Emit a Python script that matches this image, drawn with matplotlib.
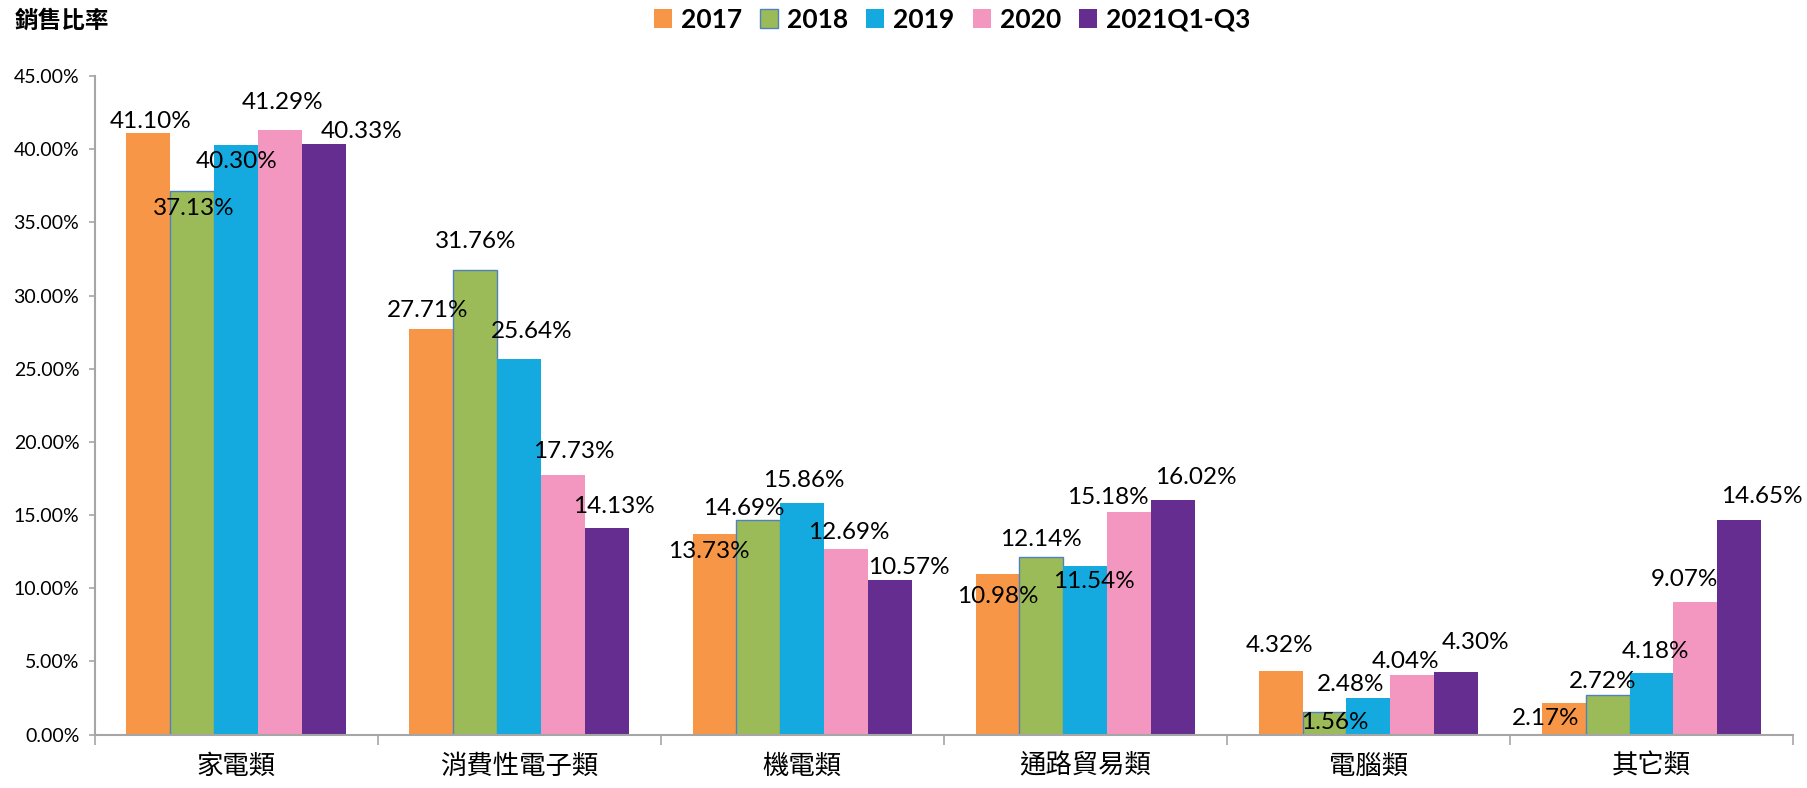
import matplotlib
matplotlib.use('Agg')
import matplotlib.pyplot as plt
import numpy as np

categories = ['家電類', '消費性電子類', '機電類', '通路貿易類', '電腦類', '其它類']
series_names = ['2017', '2018', '2019', '2020', '2021Q1-Q3']
v2017 = [41.10, 27.71, 13.73, 10.98, 4.32, 2.17]
v2018 = [37.13, 31.76, 14.69, 12.14, 1.56, 2.72]
v2019 = [40.30, 25.64, 15.86, 11.54, 2.48, 4.18]
v2020 = [41.29, 17.73, 12.69, 15.18, 4.04, 9.07]
v2021 = [40.33, 14.13, 10.57, 16.02, 4.30, 14.65]
y_ticks = [0, 5, 10, 15, 20, 25, 30, 35, 40, 45]

colors = ['#F79646', '#9BBB59', '#14AAE0', '#F497C0', '#662D91']
edges = ['none', '#4F81BD', 'none', 'none', 'none']

# label nudges in output pixels (label centre minus bar top centre), one row per series
label_dx = [[2, -4, -6, 0, -1, -18],
            [2, 0, -15, -1, 10, -5],
            [0, 13, 2, 9, -18, 4],
            [3, 11, 3, -21, -7, -11],
            [38, 7, 19, 23, 19, 23]]
label_dy = [[12, 19, -18, -23, 26, -16],
            [-17, 28, 11, 17, -11, 13],
            [-17, 28, 22, -16, 14, 22],
            [28, 24, 16, 15, 14, 22],
            [13, 21, 12, 23, 29, 24]]
PX = 0.72  # points per pixel at dpi 100

LABEL_FONT = 'Lato'
CJK = ['Noto Sans CJK TC', 'DejaVu Sans']

fig = plt.figure(figsize=(18.08, 7.88), dpi=100)
ax = fig.add_axes([0.0523, 0.0678, 0.9394, 0.8356])

values = [v2017, v2018, v2019, v2020, v2021]
x = np.arange(len(categories))
w = 0.155
for i, (name, vals) in enumerate(zip(series_names, values)):
    pos = x + (i - 2) * w
    ax.bar(pos, vals, width=w, color=colors[i], edgecolor=edges[i],
           linewidth=1.0 if edges[i] != 'none' else 0, label=name, zorder=2)
    for j, v in enumerate(vals):
        ax.annotate(f'{v:.2f}%', xy=(pos[j], v),
                    xytext=(label_dx[i][j] * PX, label_dy[i][j] * PX),
                    textcoords='offset points', ha='center', va='center',
                    fontsize=17.5, family=LABEL_FONT, color='black', zorder=3,
                    annotation_clip=False)

ax.set_xlim(-0.5, 5.5)
ax.set_ylim(0, 45)
ax.set_yticks(y_ticks)
ax.set_yticklabels([f'{t:.2f}%' for t in y_ticks], family=LABEL_FONT, fontsize=14)
ax.set_xticks(x)
ax.set_xticklabels(categories, family=CJK, fontsize=19, fontweight='medium')
ax.set_xticks(np.arange(-0.5, 6, 1), minor=True)
ax.tick_params(axis='x', which='major', length=0, pad=13)
ax.tick_params(axis='x', which='minor', length=7, width=1.2, color='#A6A6A6', direction='out')
ax.tick_params(axis='y', length=4, width=1.2, color='#A6A6A6', pad=7)

for s in ['top', 'right']:
    ax.spines[s].set_visible(False)
for s in ['left', 'bottom']:
    ax.spines[s].set_color('#A6A6A6')
    ax.spines[s].set_linewidth(1.5)

fig.text(0.008, 1 - 21 / 788, '銷售比率', family=CJK, fontsize=17,
         fontweight='bold', ha='left', va='center')

leg = fig.legend(loc='center', bbox_to_anchor=(0.5266, 0.975), ncol=5, frameon=False,
                 prop={'family': LABEL_FONT, 'weight': 'bold', 'size': 19},
                 handlelength=0.68, handleheight=0.68, handletextpad=0.34,
                 columnspacing=0.69, borderpad=0)

fig.savefig('out.png', dpi=100)
